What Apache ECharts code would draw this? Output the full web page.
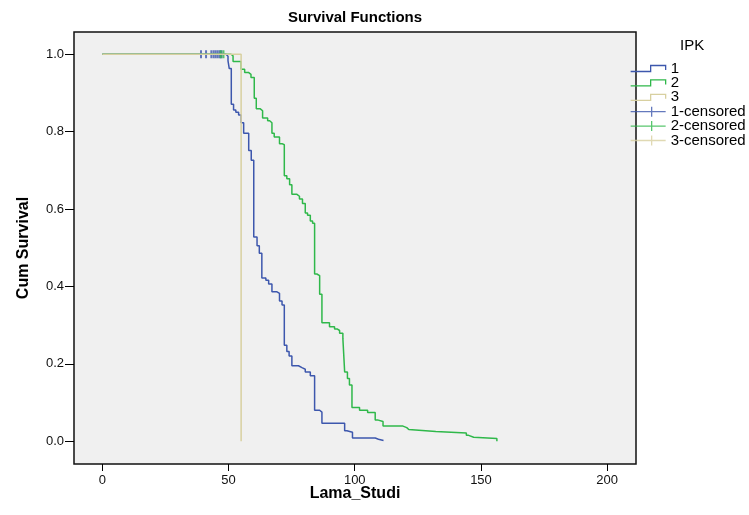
<!DOCTYPE html>
<html>
<head>
<meta charset="utf-8">
<script src="https://cdn.jsdelivr.net/npm/echarts@6/dist/echarts.min.js"></script>
<style>html,body{margin:0;padding:0;background:#fff}#c{width:749px;height:515px}</style>
</head>
<body>
<div id="c"></div>
<script>
// ---- data ----
const xTicks = [0, 50, 100, 150, 200];
const yTicks = [0, 0.2, 0.4, 0.6, 0.8, 1.0];

const groupNames = ['1', '2', '3'];
const censoredNames = ['1-censored', '2-censored', '3-censored'];

const blueTimes = [0, 49.0, 49.8, 50.3, 51.1, 52.0, 52.9, 54.0, 55.0, 56.0, 58.0, 59.0, 60.0, 61.3, 62.2, 63.2, 64.8, 65.9, 67.2, 69.2, 70.2, 71.2, 72.1, 73.1, 74.0, 75.1, 77.7, 79.1, 80.4, 82.4, 84.1, 86.1, 87.0, 96.0, 96.9, 99.1, 108.1, 109.4, 111.4];
const blueSurv  = [1.0, 0.995, 0.983, 0.963, 0.871, 0.856, 0.850, 0.843, 0.823, 0.796, 0.751, 0.726, 0.528, 0.505, 0.486, 0.422, 0.416, 0.406, 0.386, 0.382, 0.362, 0.352, 0.248, 0.232, 0.220, 0.195, 0.190, 0.186, 0.179, 0.169, 0.080, 0.075, 0.046, 0.027, 0.023, 0.008, 0.005, 0.002, 0.002];

const greenTimes = [0, 51.0, 51.8, 55.0, 56.4, 57.9, 58.9, 60.2, 61.0, 62.6, 63.5, 65.5, 66.3, 67.2, 68.1, 70.2, 71.2, 72.1, 73.1, 74.2, 75.1, 77.1, 78.1, 79.3, 80.4, 81.3, 82.4, 83.3, 84.1, 85.0, 86.1, 87.0, 90.0, 92.0, 93.0, 94.0, 95.3, 96.0, 97.1, 97.9, 98.9, 101.9, 105.1, 108.1, 109.0, 111.2, 119.1, 120.6, 121.4, 132.1, 144.2, 145.1, 147.1, 156.3];
const greenSurv  = [1.0, 0.996, 0.981, 0.961, 0.953, 0.948, 0.940, 0.886, 0.859, 0.854, 0.835, 0.828, 0.823, 0.796, 0.786, 0.769, 0.766, 0.686, 0.678, 0.663, 0.638, 0.633, 0.626, 0.614, 0.590, 0.584, 0.569, 0.563, 0.432, 0.428, 0.380, 0.306, 0.296, 0.290, 0.286, 0.279, 0.265, 0.179, 0.162, 0.145, 0.087, 0.080, 0.074, 0.055, 0.051, 0.039, 0.035, 0.030, 0.025, 0.021, 0.015, 0.010, 0.007, 0.0];

const beigeTimes = [0, 55.0];
const beigeSurv  = [1.0, 0.0];

const blueCensTimes  = [39.1, 41.1, 43.2, 44.1, 44.9, 45.7, 46.5, 47.2];
const blueCensSurv   = [1.0, 1.0, 1.0, 1.0, 1.0, 1.0, 1.0, 1.0];
const greenCensTimes = [46.9, 48.0];
const greenCensSurv  = [1.0, 1.0];
const beigeCensTimes = [];
const beigeCensSurv  = [];

// ---- styling ----
const FONT = '"Liberation Sans", Arial, Helvetica, sans-serif';
const C1 = '#3d57ad', C2 = '#2fb84a', C3 = '#d8d0a0';
const zip = (xs, ys) => xs.map((x, i) => [x, ys[i]]);

const stepIcon = 'path://M0,0 M0,8 L20,8 L20,2 L35,2 L35,6.5 M35,10';
const censIcon = 'path://M0,5 L35,5 M21,0 L21,10';

const chart = echarts.init(document.getElementById('c'), null, {renderer: 'canvas'});

function lineSeries(name, xs, ys, color) {
  return {
    name: name, type: 'line', step: 'end', data: zip(xs, ys),
    showSymbol: false, symbol: 'none', silent: true,
    lineStyle: {color: color, width: 1.5}, itemStyle: {color: color},
    emphasis: {disabled: true}
  };
}
function censSeries(name, xs, ys, color) {
  return {
    name: name, type: 'scatter', data: zip(xs, ys),
    symbol: 'rect', symbolSize: [2, 8], silent: true,
    itemStyle: {color: color}, emphasis: {disabled: true}
  };
}

const option = {
  animation: false,
  backgroundColor: '#ffffff',
  title: [
    {text: 'Survival Functions', left: 355, top: 10, textAlign: 'center', padding: 0,
     textStyle: {fontFamily: FONT, fontSize: 15, fontWeight: 'bold', color: '#000'}},
    {text: 'IPK', left: 680, top: 38, padding: 0,
     textStyle: {fontFamily: FONT, fontSize: 15, fontWeight: 'normal', color: '#000'}}
  ],
  legend: {
    orient: 'vertical', left: 630, top: 61, padding: 0,
    itemWidth: 35, itemHeight: 10, itemGap: -0.6, symbolKeepAspect: false,
    selectedMode: false,
    textStyle: {fontFamily: FONT, fontSize: 15, color: '#000', lineHeight: 13},
    data: [
      {name: groupNames[0], icon: stepIcon, itemStyle: {color: 'transparent', borderColor: C1, borderWidth: 1.3}},
      {name: groupNames[1], icon: stepIcon, itemStyle: {color: 'transparent', borderColor: C2, borderWidth: 1.3}},
      {name: groupNames[2], icon: stepIcon, itemStyle: {color: 'transparent', borderColor: C3, borderWidth: 1.3}},
      {name: censoredNames[0], icon: censIcon, itemStyle: {color: 'transparent', borderColor: C1, borderWidth: 1.3}},
      {name: censoredNames[1], icon: censIcon, itemStyle: {color: 'transparent', borderColor: C2, borderWidth: 1.3}},
      {name: censoredNames[2], icon: censIcon, itemStyle: {color: 'transparent', borderColor: C3, borderWidth: 1.3}}
    ]
  },
  grid: {left: 74, right: 113, top: 32, bottom: 51, show: true,
         backgroundColor: '#f0f0f0', borderColor: '#111', borderWidth: 1.5},
  xAxis: {
    type: 'value', min: -11.2, max: 211.4,
    name: 'Lama_Studi', nameLocation: 'middle', nameGap: 22, nameMoveOverlap: false,
    nameTextStyle: {fontFamily: FONT, fontSize: 16, fontWeight: 'bold', color: '#000'},
    axisLine: {show: false, onZero: false},
    axisTick: {show: true, length: 7, customValues: xTicks, lineStyle: {color: '#000', width: 1}},
    axisLabel: {customValues: xTicks, margin: 10, fontFamily: FONT, fontSize: 13, color: '#111'},
    splitLine: {show: false}
  },
  yAxis: {
    type: 'value', min: -0.059, max: 1.0575,
    name: 'Cum Survival', nameLocation: 'middle', nameGap: 42, nameRotate: 90, nameMoveOverlap: false,
    nameTextStyle: {fontFamily: FONT, fontSize: 16, fontWeight: 'bold', color: '#000'},
    axisLine: {show: false, onZero: false},
    axisTick: {show: true, length: 9, customValues: yTicks, lineStyle: {color: '#000', width: 1}},
    axisLabel: {customValues: yTicks, margin: 10, fontFamily: FONT, fontSize: 13, color: '#111',
                formatter: v => v.toFixed(1)},
    splitLine: {show: false}
  },
  series: [
    lineSeries(groupNames[0], blueTimes, blueSurv, C1),
    lineSeries(groupNames[1], greenTimes, greenSurv, C2),
    lineSeries(groupNames[2], beigeTimes, beigeSurv, C3),
    censSeries(censoredNames[0], blueCensTimes, blueCensSurv, C1),
    censSeries(censoredNames[1], greenCensTimes, greenCensSurv, C2),
    censSeries(censoredNames[2], beigeCensTimes, beigeCensSurv, C3)
  ]
};
chart.setOption(option);
</script>
</body>
</html>
